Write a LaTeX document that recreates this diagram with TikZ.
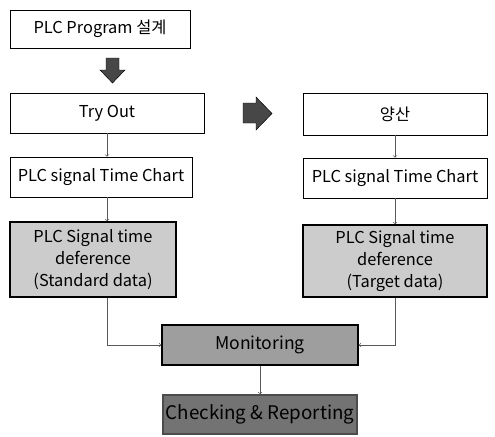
\documentclass[tikz,border=0pt]{standalone}
\usepackage{fontspec}
\setmainfont{Noto Sans CJK KR}
\usetikzlibrary{positioning}

\begin{document}
\begin{tikzpicture}
  [x=0.03cm,y=-0.03cm,
   every node/.style={draw,inner sep=0pt,align=center,font=\fontsize{14}{19}\selectfont},
   wbox/.style={fill=white,line width=0.5pt},
   gbox/.style={fill=black!20,line width=1.2pt},
   mbox/.style={fill=black!38,line width=1.2pt},
   cbox/.style={fill=black!55,draw=black!70,line width=1.2pt},
   link/.style={->,draw=black!65,line width=0.5pt},
   blk/.style={fill=black!72,draw=black,line width=0.4pt}]
  \useasboundingbox (0,0) rectangle (495,436);

  \node[wbox,minimum width=180*0.03cm,minimum height=38*0.03cm] (design) at (100,29) {PLC Program 설계};
  \node[wbox,minimum width=194*0.03cm,minimum height=40*0.03cm] (tryout) at (107,113) {Try Out};
  \node[wbox,minimum width=184*0.03cm,minimum height=42*0.03cm] (mass) at (395,114) {양산};
  \node[wbox,minimum width=182*0.03cm,minimum height=40*0.03cm] (chartL) at (101,177) {PLC signal Time Chart};
  \node[wbox,minimum width=184*0.03cm,minimum height=40*0.03cm] (chartR) at (395,178) {PLC signal Time Chart};
  \node[gbox,minimum width=166*0.03cm,minimum height=75*0.03cm] (stdL) at (93,259.5) {PLC Signal time\\deference\\(Standard data)};
  \node[gbox,minimum width=184*0.03cm,minimum height=72*0.03cm] (tgtR) at (395,261) {PLC Signal time\\deference\\(Target data)};
  \node[mbox,minimum width=196*0.03cm,minimum height=40*0.03cm,font=\fontsize{15}{19}\selectfont] (mon) at (260,345) {Monitoring};
  \node[cbox,minimum width=194*0.03cm,minimum height=39*0.03cm,font=\fontsize{16}{19}\selectfont] (chk) at (260,414.5) {Checking \& Reporting};

  % block arrows
  \fill[blk] (106,58) -- (119,58) -- (119,70) -- (125,70) -- (112.5,83) -- (100,70) -- (106,70) -- cycle;
  \fill[blk] (243,103) -- (256,103) -- (256,97) -- (272,113.5) -- (256,130) -- (256,123) -- (243,123) -- cycle;

  \draw[link] (tryout.south) -- (tryout.south |- chartL.north);
  \draw[link] (tryout.south |- chartL.south) -- (tryout.south |- stdL.north);
  \draw[link] (tryout.south |- stdL.south) |- (mon.west);
  \foreach \from/\to in {mass/chartR,chartR/tgtR,mon/chk}
    \draw[link] (\from) -- (\to);
  \draw[link] (tgtR.south) |- (mon.east);
\end{tikzpicture}
\end{document}
